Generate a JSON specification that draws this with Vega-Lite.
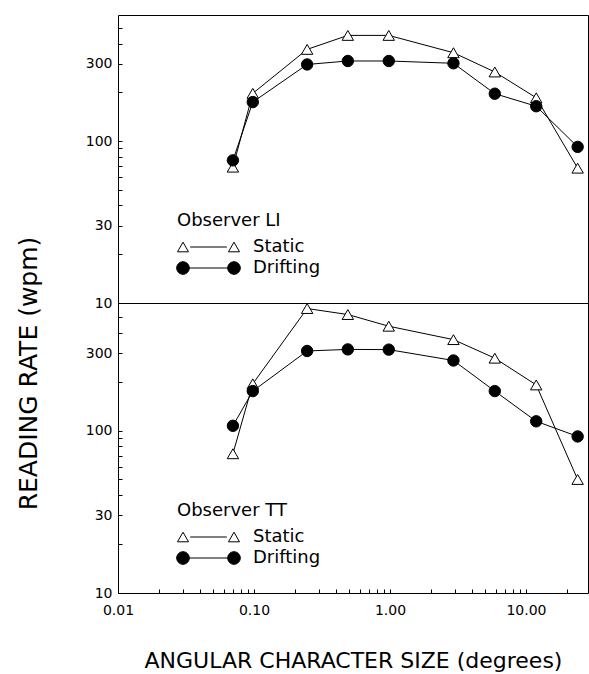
{
  "$schema": "https://vega.github.io/schema/vega-lite/v6.json",
  "autosize": {"type": "pad"},
  "padding": {"left": 15, "top": 14, "right": 1, "bottom": 2},
  "background": "white",
  "bounds": "flush",
  "spacing": 0,
  "config": {
    "font": "DejaVu Sans",
    "view": {"stroke": "black", "strokeWidth": 1},
    "axis": {
      "domainColor": "black",
      "tickColor": "black",
      "labelColor": "black",
      "titleColor": "black",
      "labelFont": "DejaVu Sans",
      "titleFont": "DejaVu Sans",
      "labelFontSize": 14,
      "titleFontSize": 22,
      "titleFontWeight": "normal",
      "grid": false
    },
    "legend": {
      "titleFont": "DejaVu Sans",
      "labelFont": "DejaVu Sans",
      "titleFontSize": 18,
      "labelFontSize": 18,
      "titleFontWeight": "normal",
      "titleColor": "black",
      "labelColor": "black",
      "symbolStrokeColor": "black",
      "symbolStrokeWidth": 1
    }
  },
  "datasets": {
    "rates": [
      {"panel": "LI", "condition": "Static", "size": 0.07, "rate": 69},
      {"panel": "LI", "condition": "Static", "size": 0.098, "rate": 197},
      {"panel": "LI", "condition": "Static", "size": 0.246, "rate": 368},
      {"panel": "LI", "condition": "Static", "size": 0.49, "rate": 449},
      {"panel": "LI", "condition": "Static", "size": 0.98, "rate": 449},
      {"panel": "LI", "condition": "Static", "size": 2.93, "rate": 351},
      {"panel": "LI", "condition": "Static", "size": 5.9, "rate": 267},
      {"panel": "LI", "condition": "Static", "size": 11.9, "rate": 185},
      {"panel": "LI", "condition": "Static", "size": 24, "rate": 68},
      {"panel": "LI", "condition": "Drifting", "size": 0.07, "rate": 76},
      {"panel": "LI", "condition": "Drifting", "size": 0.098, "rate": 174},
      {"panel": "LI", "condition": "Drifting", "size": 0.246, "rate": 297},
      {"panel": "LI", "condition": "Drifting", "size": 0.49, "rate": 312},
      {"panel": "LI", "condition": "Drifting", "size": 0.98, "rate": 312},
      {"panel": "LI", "condition": "Drifting", "size": 2.93, "rate": 302},
      {"panel": "LI", "condition": "Drifting", "size": 5.9, "rate": 196},
      {"panel": "LI", "condition": "Drifting", "size": 11.9, "rate": 164},
      {"panel": "LI", "condition": "Drifting", "size": 24, "rate": 92},
      {"panel": "TT", "condition": "Static", "size": 0.07, "rate": 72},
      {"panel": "TT", "condition": "Static", "size": 0.098, "rate": 194},
      {"panel": "TT", "condition": "Static", "size": 0.246, "rate": 564},
      {"panel": "TT", "condition": "Static", "size": 0.49, "rate": 518},
      {"panel": "TT", "condition": "Static", "size": 0.98, "rate": 439},
      {"panel": "TT", "condition": "Static", "size": 2.93, "rate": 363},
      {"panel": "TT", "condition": "Static", "size": 5.9, "rate": 279},
      {"panel": "TT", "condition": "Static", "size": 11.9, "rate": 191},
      {"panel": "TT", "condition": "Static", "size": 24, "rate": 50},
      {"panel": "TT", "condition": "Drifting", "size": 0.07, "rate": 107},
      {"panel": "TT", "condition": "Drifting", "size": 0.098, "rate": 175},
      {"panel": "TT", "condition": "Drifting", "size": 0.246, "rate": 309},
      {"panel": "TT", "condition": "Drifting", "size": 0.49, "rate": 316},
      {"panel": "TT", "condition": "Drifting", "size": 0.98, "rate": 315},
      {"panel": "TT", "condition": "Drifting", "size": 2.93, "rate": 270},
      {"panel": "TT", "condition": "Drifting", "size": 5.9, "rate": 175},
      {"panel": "TT", "condition": "Drifting", "size": 11.9, "rate": 114},
      {"panel": "TT", "condition": "Drifting", "size": 24, "rate": 92}
    ]
  },
  "data": {"name": "rates"},
  "vconcat": [
    {
      "width": 470,
      "height": 288,
      "transform": [{"filter": "datum.panel === 'LI'"}],
      "layer": [
        {
          "mark": {"type": "line", "color": "black", "strokeWidth": 1},
          "encoding": {
            "x": {"field": "size", "type": "quantitative", "scale": {"type": "log", "domain": [0.01, 28.6], "nice": false}, "axis": null},
            "y": {"field": "rate", "type": "quantitative", "scale": {"type": "log", "domain": [10, 600], "nice": false},
              "axis": {
                "values": [10, 20, 30, 40, 50, 60, 70, 80, 90, 100, 200, 300, 400, 500],
                "labelExpr": "indexof([10, 30, 100, 300], datum.value) >= 0 ? format(datum.value, 'd') : ''",
                "tickSize": -4,
                "labelPadding": 10,
                "domain": false,
                "title": "READING RATE (wpm)",
                "titleFontSize": 25,
                "titleAngle": -90,
                "titleAlign": "center",
                "titleBaseline": "middle",
                "titleX": -90,
                "titleY": 358
              }
            },
            "detail": {"field": "condition"}
          }
        },
        {
          "mark": {"type": "point", "filled": true, "stroke": "black", "strokeWidth": 1, "size": 130, "opacity": 1},
          "encoding": {
            "x": {"field": "size", "type": "quantitative"},
            "y": {"field": "rate", "type": "quantitative"},
            "shape": {"field": "condition", "type": "nominal", "scale": {"domain": ["Static", "Drifting"], "range": ["triangle-up", "circle"]}, "legend": null},
            "fill": {"field": "condition", "type": "nominal", "scale": {"domain": ["Static", "Drifting"], "range": ["white", "black"]}, "legend": null}
          }
        },
        {
          "transform": [{"filter": "false"}],
          "mark": {"type": "point", "filled": true, "strokeWidth": 1, "opacity": 1},
          "encoding": {
            "x": {"field": "size", "type": "quantitative"},
            "y": {"field": "rate", "type": "quantitative"},
            "shape": {
              "field": "condition", "type": "nominal",
              "scale": {"domain": ["Static", "Drifting"], "range": ["M-0.5,-0.8L0.42,0.8L-1.42,0.8Z M0.7,0L6.8,0 M8,-0.8L8.92,0.8L7.08,0.8Z", "M-1.55,0A1.05,1.05 0 1,0 0.55,0A1.05,1.05 0 1,0 -1.55,0Z M0.55,0L6.95,0 M6.95,0A1.05,1.05 0 1,0 9.05,0A1.05,1.05 0 1,0 6.95,0Z"]},
              "legend": {
                "title": "Observer LI",
                "orient": "none",
                "legendX": 59,
                "legendY": 197,
                "symbolSize": 144,
                "labelOffset": 58,
                "rowPadding": 3,
                "titlePadding": 8,
                "symbolOpacity": 1,
                "symbolStrokeColor": "black",
                "symbolStrokeWidth": 1
              }
            },
            "fill": {"field": "condition", "type": "nominal", "scale": {"domain": ["Static", "Drifting"], "range": ["white", "black"]}},
            "stroke": {"field": "condition", "type": "nominal", "scale": {"domain": ["Static", "Drifting"], "range": ["black", "black"]}}
          }
        }
      ],
      "resolve": {"scale": {"shape": "independent", "fill": "independent", "stroke": "independent"}}
    },
    {
      "width": 470,
      "height": 290,
      "transform": [{"filter": "datum.panel === 'TT'"}],
      "layer": [
        {
          "mark": {"type": "line", "color": "black", "strokeWidth": 1},
          "encoding": {
            "x": {"field": "size", "type": "quantitative", "scale": {"type": "log", "domain": [0.01, 28.6], "nice": false},
              "axis": {
                "values": [0.01, 0.02, 0.03, 0.04, 0.05, 0.06, 0.07, 0.08, 0.09, 0.1, 0.2, 0.3, 0.4, 0.5, 0.6, 0.7, 0.8, 0.9, 1, 2, 3, 4, 5, 6, 7, 8, 9, 10, 20],
                "labelExpr": "indexof([0.01, 0.1, 1, 10], datum.value) >= 0 ? format(datum.value, '.2f') : ''",
                "tickSize": -4,
                "labelPadding": 14,
                "domain": false,
                "labelFlush": false,
                "title": "ANGULAR CHARACTER SIZE (degrees)",
                "titlePadding": 33
              }
            },
            "y": {"field": "rate", "type": "quantitative", "scale": {"type": "log", "domain": [10, 610], "nice": false},
              "axis": {
                "values": [10, 20, 30, 40, 50, 60, 70, 80, 90, 100, 200, 300, 400, 500],
                "labelExpr": "indexof([10, 30, 100, 300], datum.value) >= 0 ? format(datum.value, 'd') : ''",
                "tickSize": -4,
                "labelPadding": 10,
                "domain": false,
                "title": null
              }
            },
            "detail": {"field": "condition"}
          }
        },
        {
          "mark": {"type": "point", "filled": true, "stroke": "black", "strokeWidth": 1, "size": 130, "opacity": 1},
          "encoding": {
            "x": {"field": "size", "type": "quantitative"},
            "y": {"field": "rate", "type": "quantitative"},
            "shape": {"field": "condition", "type": "nominal", "scale": {"domain": ["Static", "Drifting"], "range": ["triangle-up", "circle"]}, "legend": null},
            "fill": {"field": "condition", "type": "nominal", "scale": {"domain": ["Static", "Drifting"], "range": ["white", "black"]}, "legend": null}
          }
        },
        {
          "transform": [{"filter": "false"}],
          "mark": {"type": "point", "filled": true, "strokeWidth": 1, "opacity": 1},
          "encoding": {
            "x": {"field": "size", "type": "quantitative"},
            "y": {"field": "rate", "type": "quantitative"},
            "shape": {
              "field": "condition", "type": "nominal",
              "scale": {"domain": ["Static", "Drifting"], "range": ["M-0.5,-0.8L0.42,0.8L-1.42,0.8Z M0.7,0L6.8,0 M8,-0.8L8.92,0.8L7.08,0.8Z", "M-1.55,0A1.05,1.05 0 1,0 0.55,0A1.05,1.05 0 1,0 -1.55,0Z M0.55,0L6.95,0 M6.95,0A1.05,1.05 0 1,0 9.05,0A1.05,1.05 0 1,0 6.95,0Z"]},
              "legend": {
                "title": "Observer TT",
                "orient": "none",
                "legendX": 59,
                "legendY": 199,
                "symbolSize": 144,
                "labelOffset": 58,
                "rowPadding": 3,
                "titlePadding": 8,
                "symbolOpacity": 1,
                "symbolStrokeColor": "black",
                "symbolStrokeWidth": 1
              }
            },
            "fill": {"field": "condition", "type": "nominal", "scale": {"domain": ["Static", "Drifting"], "range": ["white", "black"]}},
            "stroke": {"field": "condition", "type": "nominal", "scale": {"domain": ["Static", "Drifting"], "range": ["black", "black"]}}
          }
        }
      ],
      "resolve": {"scale": {"shape": "independent", "fill": "independent", "stroke": "independent"}}
    }
  ],
  "resolve": {"scale": {"shape": "independent", "fill": "independent", "stroke": "independent", "y": "independent"}, "legend": {"shape": "independent", "fill": "independent", "stroke": "independent"}}
}
